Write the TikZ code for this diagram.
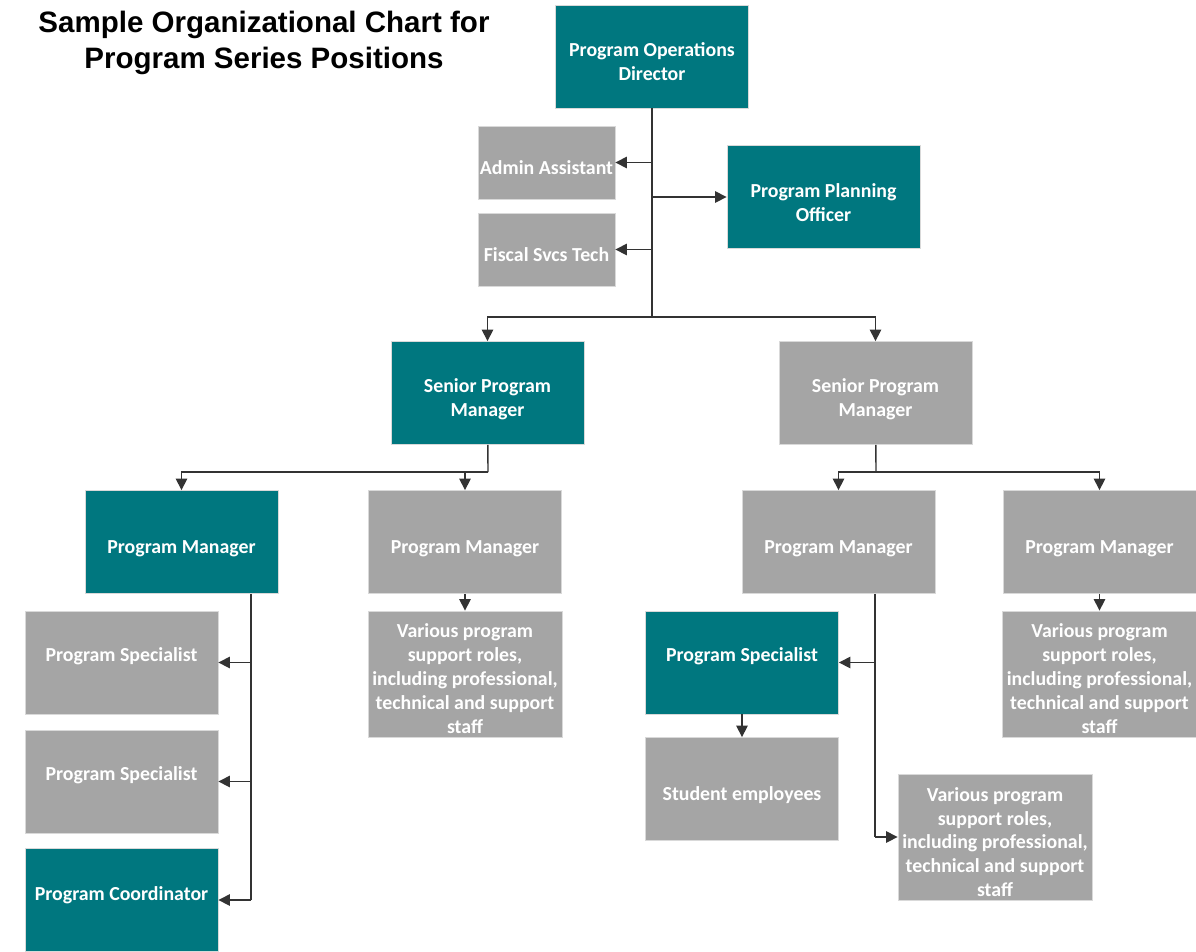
\documentclass[tikz,border=0pt]{standalone}
\usepackage{fontspec}
\setmainfont{Carlito}
\newfontfamily\titlefont{Liberation Sans}
\usetikzlibrary{arrows.meta}
\definecolor{chartteal}{HTML}{00777F}
\definecolor{chartgray}{HTML}{A5A5A5}
\newcommand{\pxsize}{0.02cm}
\newcommand{\orgbox}[5][5]{
	\node[#2] (#3) at (#4) {};
	\node[boxtext, yshift={-#1*\pxsize}] (#3-text) at (#3) {#5};
}

\begin{document}
\begin{tikzpicture}[x=\pxsize,y=-\pxsize,
	box/.style={draw=black!15, line width=0.5pt, inner sep=0pt,
		minimum width=3.86cm, minimum height=2.06cm},
	boxtext/.style={text=white, inner sep=0pt, align=center,
		font=\bfseries\fontsize{11.3}{13.6}\selectfont},
	tealbox/.style={box, fill=chartteal},
	graybox/.style={box, fill=chartgray},
	smallbox/.style={minimum width=2.74cm, minimum height=1.46cm},
	tallbox/.style={minimum width=3.88cm, minimum height=2.52cm},
	link/.style={draw=black!80, line width=0.8pt},
	arr/.style={link, -{Triangle[length=6.5pt,width=6.5pt]}}]
	\useasboundingbox[fill=white] (0,0) rectangle (1196,951);

	\node[font=\titlefont\bfseries\fontsize{16.8}{20.4}\selectfont, align=center] (title) at (264,43)
		{Sample Organizational Chart for\\Program Series Positions};

	% top level
	\orgbox{tealbox}{dir}{652,56.5}{Program Operations\\Director}
	\orgbox{graybox, smallbox}{admin}{546.5,162.5}{Admin Assistant}
	\orgbox{graybox, smallbox}{fiscal}{546.5,249.5}{Fiscal Svcs Tech}
	\orgbox[5.5]{tealbox}{plan}{823.5,197}{Program Planning\\Officer}
	\coordinate (bus) at (652,317);

	% senior managers
	\orgbox[6.5]{tealbox}{spmL}{487.5,393}{Senior Program\\Manager}
	\orgbox[6.5]{graybox}{spmR}{875.5,393}{Senior Program\\Manager}
	\coordinate (busL) at (488,472);
	\coordinate (busR) at (876,472);

	% program managers
	\orgbox[7]{tealbox}{pmA}{181.5,542}{Program Manager}
	\orgbox[7]{graybox}{pmB}{465,542}{Program Manager}
	\orgbox[7]{graybox}{pmC}{838.5,542}{Program Manager}
	\orgbox[7]{graybox}{pmD}{1099.5,542}{Program Manager}

	% under program managers
	\orgbox[-6]{graybox}{specA}{121.5,662.5}{Program Specialist}
	\orgbox[-6]{graybox}{specB}{121.5,781.5}{Program Specialist}
	\orgbox[-5]{tealbox}{coord}{121.5,900}{Program Coordinator}
	\orgbox[4.5]{graybox, tallbox}{varB}{465,674}
		{Various program\\support roles,\\including professional,\\technical and support\\staff}
	\orgbox[-6]{tealbox}{specT}{742,662.5}{Program Specialist}
	\orgbox[6]{graybox}{student}{742,789}{Student employees}
	\orgbox[4.5]{graybox, tallbox}{varD}{1099.5,674}
		{Various program\\support roles,\\including professional,\\technical and support\\staff}
	\orgbox{graybox, tallbox}{varC}{995,837}
		{Various program\\support roles,\\including professional,\\technical and support\\staff}
	\coordinate (trunkA) at (251,0);
	\coordinate (trunkC) at (875,0);

	\draw[link] (dir) -- (bus);
	\draw[arr] (dir.south |- admin.east) -- (admin.east);
	\draw[arr] (dir.south |- fiscal.east) -- (fiscal.east);
	\draw[arr] (dir.south |- plan.west) -- (plan.west);
	\draw[arr] (bus) -| (spmL.north);
	\draw[arr] (bus) -| (spmR.north);

	\draw[link] (spmL) -- (busL);
	\draw[arr] (busL) -| (pmA.north);
	\draw[arr] (busL) -| (pmB.north);
	\draw[link] (spmR) -- (busR);
	\draw[arr] (busR) -| (pmC.north);
	\draw[arr] (busR) -| (pmD.north);

	\draw[link] (trunkA |- pmA.south) -- (trunkA |- coord.east);
	\draw[arr] (trunkA |- specA.east) -- (specA.east);
	\draw[arr] (trunkA |- specB.east) -- (specB.east);
	\draw[arr] (trunkA |- coord.east) -- (coord.east);
	\draw[arr] (pmB) -- (varB);

	\draw[link] (trunkC |- pmC.south) -- (trunkC |- varC.west);
	\draw[arr] (trunkC |- specT.east) -- (specT.east);
	\draw[arr] (trunkC |- varC.west) -- (varC.west);
	\draw[arr] (specT) -- (student);
	\draw[arr] (pmD) -- (varD);
\end{tikzpicture}
\end{document}
